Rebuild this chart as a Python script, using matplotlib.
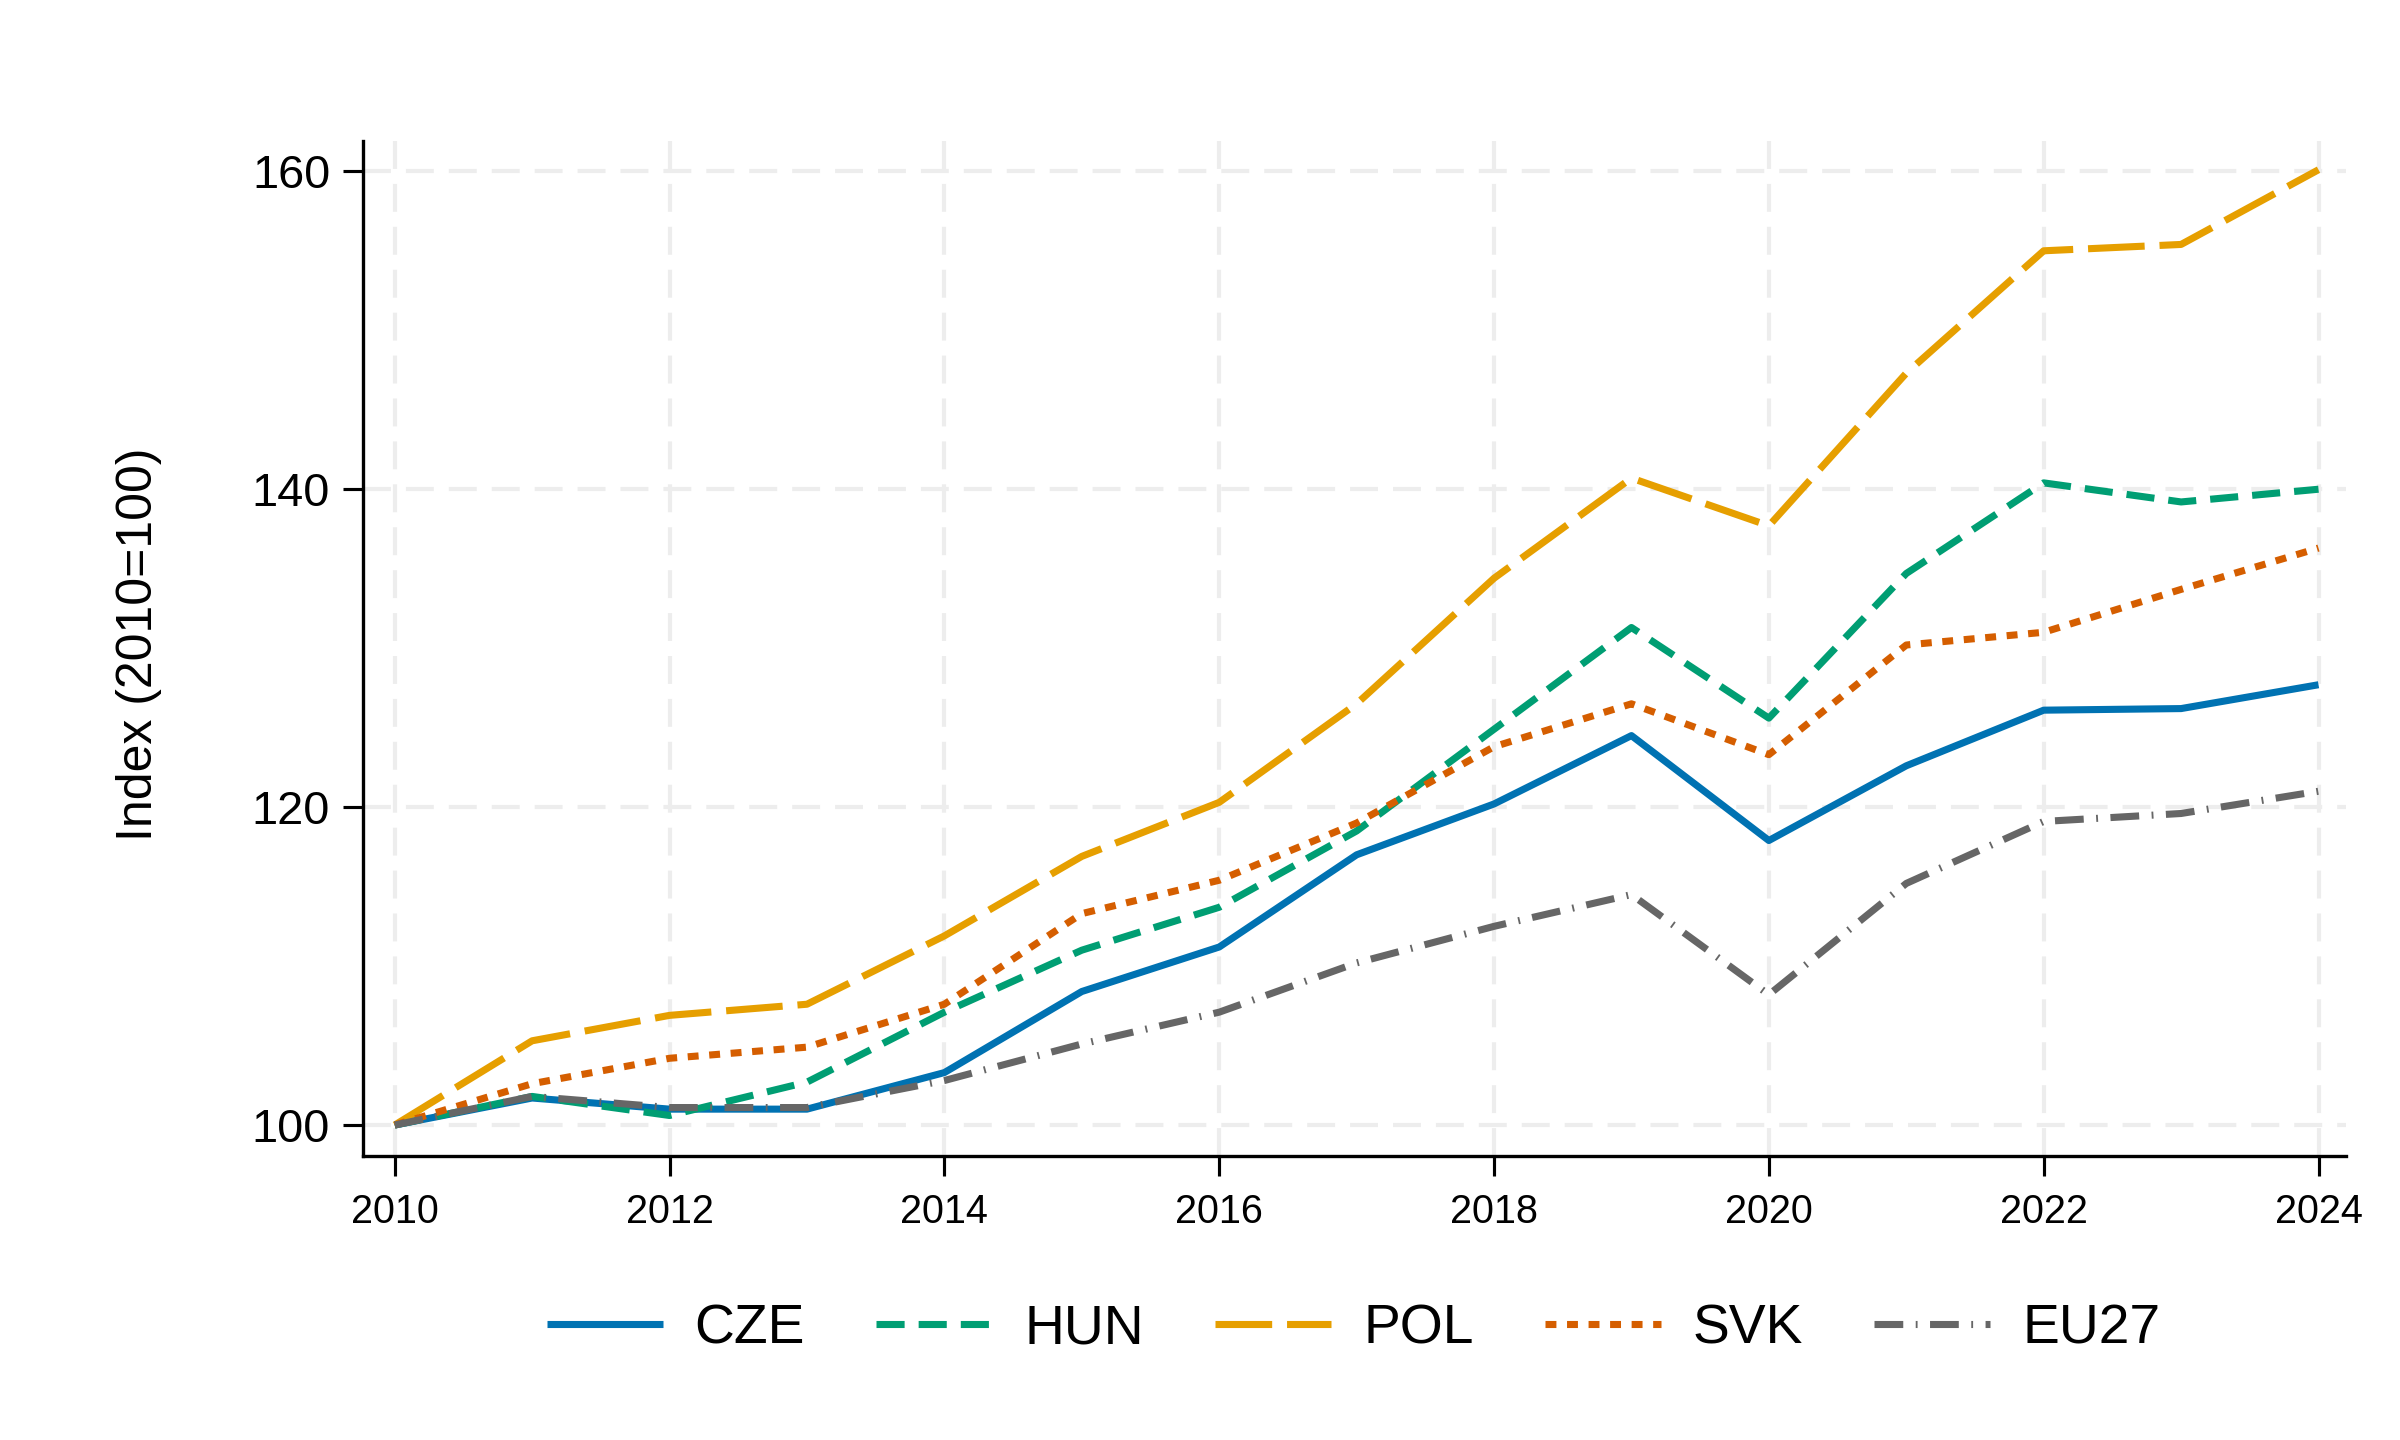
import matplotlib
matplotlib.use('Agg')
import matplotlib.pyplot as plt

years = list(range(2010, 2025))
cze = [100, 101.7, 101.0, 101.0, 103.3, 108.4, 111.2, 117.0, 120.2, 124.5, 117.9, 122.6, 126.1, 126.2, 127.7]
hun = [100, 101.8, 100.6, 102.7, 107.1, 111.0, 113.7, 118.5, 124.9, 131.3, 125.6, 134.7, 140.4, 139.2, 140.0]
pol = [100, 105.3, 106.9, 107.6, 111.9, 116.9, 120.3, 126.5, 134.4, 140.7, 137.7, 147.3, 155.0, 155.4, 160.1]
svk = [100, 102.6, 104.2, 104.9, 107.6, 113.3, 115.4, 119.0, 123.8, 126.5, 123.3, 130.2, 131.0, 133.7, 136.3]
eu27 = [100, 101.8, 101.1, 101.1, 102.8, 105.1, 107.1, 110.2, 112.5, 114.5, 108.2, 115.2, 119.1, 119.6, 121.0]

labels = ['CZE', 'HUN', 'POL', 'SVK', 'EU27']
series = [cze, hun, pol, svk, eu27]
colors = ['#0072B2', '#009E73', '#E69F00', '#D55E00', '#666666']
dashes = [None, (3.97, 1.98), (8.0, 2.1), (1.54, 1.5), (4.06, 1.76, 0.26, 1.76)]

xticks = list(range(2010, 2025, 2))
yticks = [100, 120, 140, 160]

plt.rcParams['font.family'] = ['Liberation Sans', 'DejaVu Sans']

fig = plt.figure(figsize=(16, 9.6), dpi=150)
ax = fig.add_axes([0.1513, 0.1972, 0.8262, 0.7048])

LW = 3.4
for lab, vals, col, d in zip(labels, series, colors, dashes):
    if d is None:
        ax.plot(years, vals, color=col, lw=LW, label=lab, solid_capstyle='butt', zorder=3)
    else:
        ax.plot(years, vals, color=col, lw=LW, label=lab, dashes=d, zorder=3)

ax.set_xlim(2009.77, 2024.2)
ax.set_ylim(98.05, 161.9)
ax.set_xticks(xticks)
ax.set_yticks(yticks)

ax.grid(True, color='#EDEDED', linewidth=2.0, linestyle=(0, (6.7, 3.6)), zorder=0)
ax.set_axisbelow(True)

for s in ['top', 'right']:
    ax.spines[s].set_visible(False)
for s in ['left', 'bottom']:
    ax.spines[s].set_linewidth(1.6)
    ax.spines[s].set_color('black')

ax.tick_params(axis='y', labelsize=22.5, length=9.6, width=1.5, pad=6.2)
ax.tick_params(axis='x', labelsize=19, length=9.6, width=1.5, pad=8)

ax.set_ylabel('Index (2010=100)', fontsize=24)
ax.yaxis.set_label_coords(-0.1014, 0.504)

fig.legend(loc='center', bbox_to_anchor=(0.564, 0.077), ncol=5, frameon=False,
           fontsize=26.5, handlelength=2.1, handletextpad=0.58, columnspacing=1.29)

fig.savefig('out.png', dpi=150, facecolor='white')
